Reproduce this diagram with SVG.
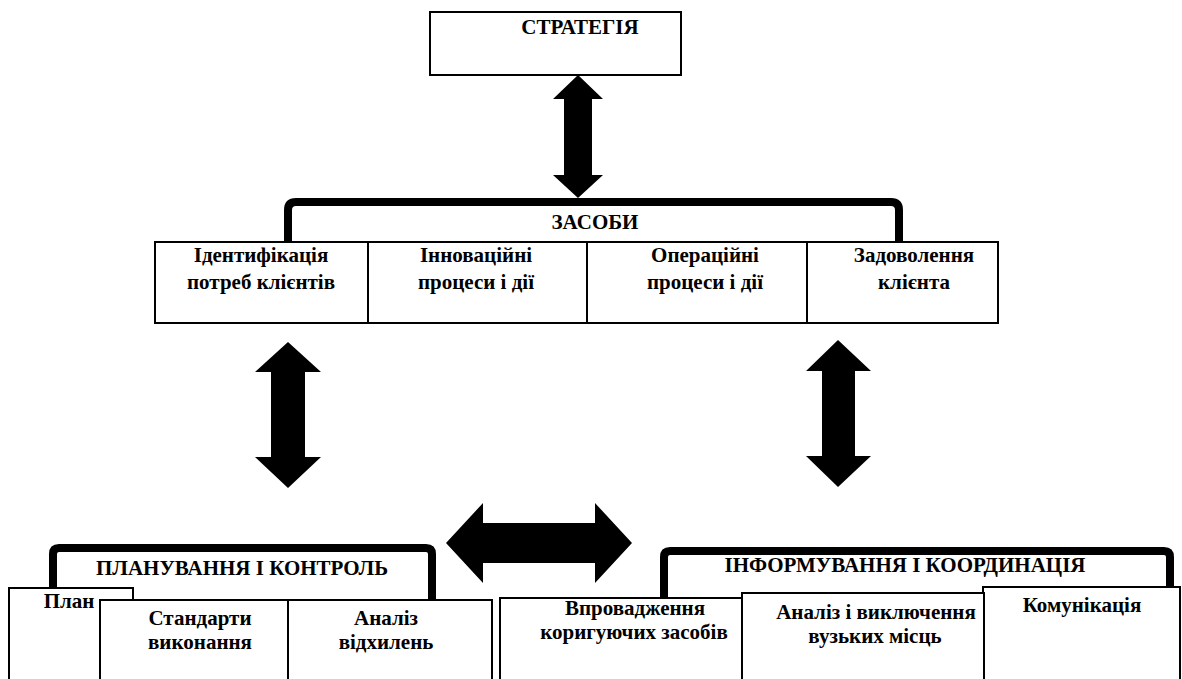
<svg xmlns="http://www.w3.org/2000/svg" width="1182" height="679" viewBox="0 0 1182 679">
<style>
.bg{fill:#fff}
.box{fill:#fff;stroke:#000;stroke-width:2}
.ln{stroke:#000;stroke-width:2;fill:none}
.br{fill:none;stroke:#000;stroke-width:8;stroke-linejoin:round}
.t{font-weight:bold;font-size:21px;fill:#000;text-anchor:middle}
.arr{fill:#000}
</style>
<rect class="bg" x="0" y="0" width="1182" height="679"/>
<g font-family="'Liberation Serif', 'DejaVu Serif', 'Times New Roman', serif">

<g id="strategy">
<rect class="box" x="430" y="12" width="251" height="63"/>
<text class="t" x="580" y="34">СТРАТЕГІЯ</text>
</g>

<g id="zasoby">
<path class="br" d="M288,242 V210 Q288,202 296,202 H891 Q899,202 899,210 V242"/>
<text class="t" x="595" y="229">ЗАСОБИ</text>
<rect class="box" x="155" y="242" width="843" height="81"/>
<line class="ln" x1="368" y1="242" x2="368" y2="323"/>
<line class="ln" x1="587" y1="242" x2="587" y2="323"/>
<line class="ln" x1="807" y1="242" x2="807" y2="323"/>
<text class="t" x="261" y="262">Ідентифікація</text>
<text class="t" x="261" y="289">потреб клієнтів</text>
<text class="t" x="476" y="262">Інноваційні</text>
<text class="t" x="476" y="289">процеси і дії</text>
<text class="t" x="705" y="262">Операційні</text>
<text class="t" x="705" y="289">процеси і дії</text>
<text class="t" x="914" y="262">Задоволення</text>
<text class="t" x="914" y="289">клієнта</text>
</g>

<g id="planning">
<path class="br" d="M53,588 V554 Q53,548 59,548 H426 Q432,548 432,554 V600"/>
<text class="t" x="242" y="575">ПЛАНУВАННЯ І КОНТРОЛЬ</text>
<rect class="box" x="9" y="588" width="124" height="100"/>
<text class="t" x="69" y="608">План</text>
<rect class="box" x="100" y="600" width="392" height="90"/>
<line class="ln" x1="288" y1="600" x2="288" y2="679"/>
<text class="t" x="200" y="625">Стандарти</text>
<text class="t" x="200" y="649">виконання</text>
<text class="t" x="386" y="625">Аналіз</text>
<text class="t" x="386" y="649">відхилень</text>
</g>

<g id="info">
<path class="br" d="M664,598 V557 Q664,551 670,551 H1164 Q1170,551 1170,557 V588"/>
<text class="t" x="905" y="572">ІНФОРМУВАННЯ І КООРДИНАЦІЯ</text>
<rect class="box" x="983" y="587" width="197" height="100"/>
<rect class="box" x="742" y="593" width="242" height="100"/>
<rect class="box" x="500" y="598" width="242" height="100"/>
<text class="t" x="635" y="615">Впровадження</text>
<text class="t" x="634" y="639">коригуючих засобів</text>
<text class="t" x="876" y="619">Аналіз і виключення</text>
<text class="t" x="875" y="643">вузьких місць</text>
<text class="t" x="1082" y="612">Комунікація</text>
</g>
</g>

<g id="connectors">
<path class="arr" d="M578,75 L603,99 L592,99 L592,175 L603,175 L578,198 L553,175 L564,175 L564,99 L553,99 Z"/>
<path class="arr" d="M288,342 L321,372 L305,372 L305,457 L321,457 L288,488 L255,457 L271,457 L271,372 L255,372 Z"/>
<path class="arr" d="M838,340 L871,371 L855,371 L855,456 L871,456 L838,487 L806,456 L822,456 L822,371 L806,371 Z"/>
<path class="arr" d="M446,543 L483,503 L483,523 L595,523 L595,503 L632,543 L595,583 L595,563 L483,563 L483,583 Z"/>
</g>
</svg>
